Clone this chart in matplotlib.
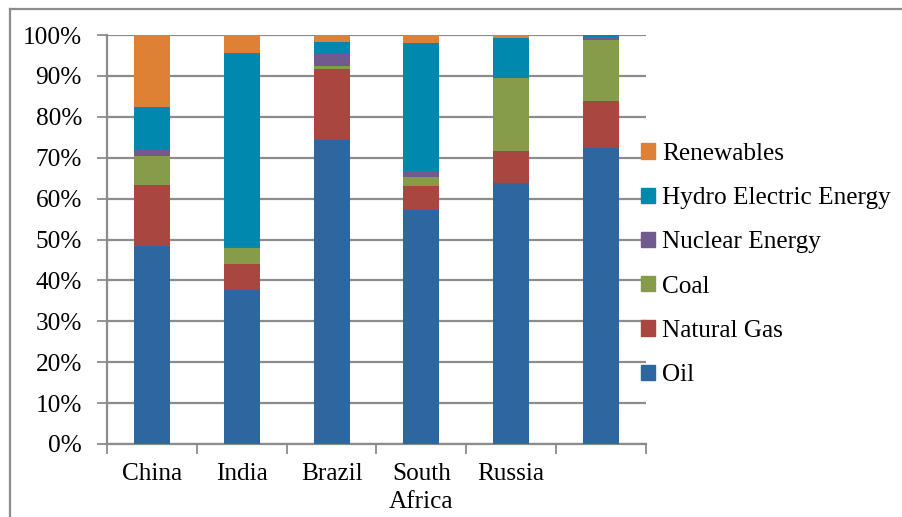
import matplotlib
matplotlib.use("Agg")
import matplotlib.pyplot as plt
import numpy as np
from matplotlib.lines import Line2D

# energy mix shares per country, in percent
countries = ["China", "India", "Brazil", "South\nAfrica", "Russia", ""]
oil = [48.4, 37.7, 74.4, 57.1, 63.9, 72.3]
natural_gas = [14.9, 6.2, 17.3, 6.1, 7.8, 11.5]
coal = [7.0, 4.0, 0.6, 2.2, 17.8, 15.0]
nuclear = [1.7, 0.3, 3.0, 1.3, 0.0, 0.7]
hydro = [10.5, 47.5, 3.0, 31.3, 9.8, 0.5]
renewables = [17.5, 4.3, 1.7, 2.0, 0.7, 0.0]

series = [
    ("Oil", oil, "#2E67A0"),
    ("Natural Gas", natural_gas, "#A8463F"),
    ("Coal", coal, "#869C4A"),
    ("Nuclear Energy", nuclear, "#725A8E"),
    ("Hydro Electric Energy", hydro, "#0088AE"),
    ("Renewables", renewables, "#DE8135"),
]

plt.rcParams["font.family"] = ["Liberation Serif", "DejaVu Serif"]
grey = "#8C8C8C"
fs = 18.2

fig = plt.figure(figsize=(9.03, 5.17), dpi=100)
ax = fig.add_axes([107 / 903, 1 - 444 / 517, (646 - 107) / 903, (444 - 35) / 517])

x = np.arange(len(countries))
bottom = np.zeros(len(countries))
handles = []
for name, vals, color in series:
    vals = np.array(vals) / 100.0
    ax.bar(x, vals, width=0.4, bottom=bottom, color=color, zorder=3)
    bottom += vals
    handles.append(plt.Rectangle((0, 0), 1, 1, color=color, label=name))

ax.set_xlim(-0.5, len(countries) - 0.5)
ax.set_ylim(0, 1)
ax.set_yticks(np.linspace(0, 1, 11))
ax.set_yticklabels([f"{int(v)}%" for v in np.linspace(0, 100, 11)])
ax.yaxis.grid(True, color=grey, linewidth=1.6, zorder=0)
ax.set_axisbelow(True)

ax.set_xticks(x)
ax.set_xticklabels(countries, linespacing=1.3)
ax.set_xticks(np.arange(-0.5, len(countries)), minor=True)
ax.tick_params(axis="x", which="major", length=0, pad=14, labelsize=fs)
ax.tick_params(axis="x", which="minor", length=7, width=1.3, color=grey)
ax.tick_params(axis="y", length=7, width=1.3, color=grey, labelsize=fs, pad=11)

for side in ("top", "right"):
    ax.spines[side].set_visible(False)
for side in ("left", "bottom"):
    ax.spines[side].set_color(grey)
    ax.spines[side].set_linewidth(1.6)

fig.legend(handles=handles[::-1], loc="center left",
           bbox_to_anchor=(641 / 903, 1 - 264.5 / 517), frameon=False,
           fontsize=fs, handlelength=0.55, handleheight=0.55,
           handletextpad=0.3, labelspacing=0.88, borderpad=0, borderaxespad=0)

# outer chart frame
fig.add_artist(Line2D([10 / 903, 1], [1 - 9 / 517, 1 - 9 / 517],
                      transform=fig.transFigure, color=grey, linewidth=1.6))
fig.add_artist(Line2D([10 / 903, 10 / 903], [0, 1 - 9 / 517],
                      transform=fig.transFigure, color=grey, linewidth=1.6))

fig.savefig("out.png", dpi=100)
